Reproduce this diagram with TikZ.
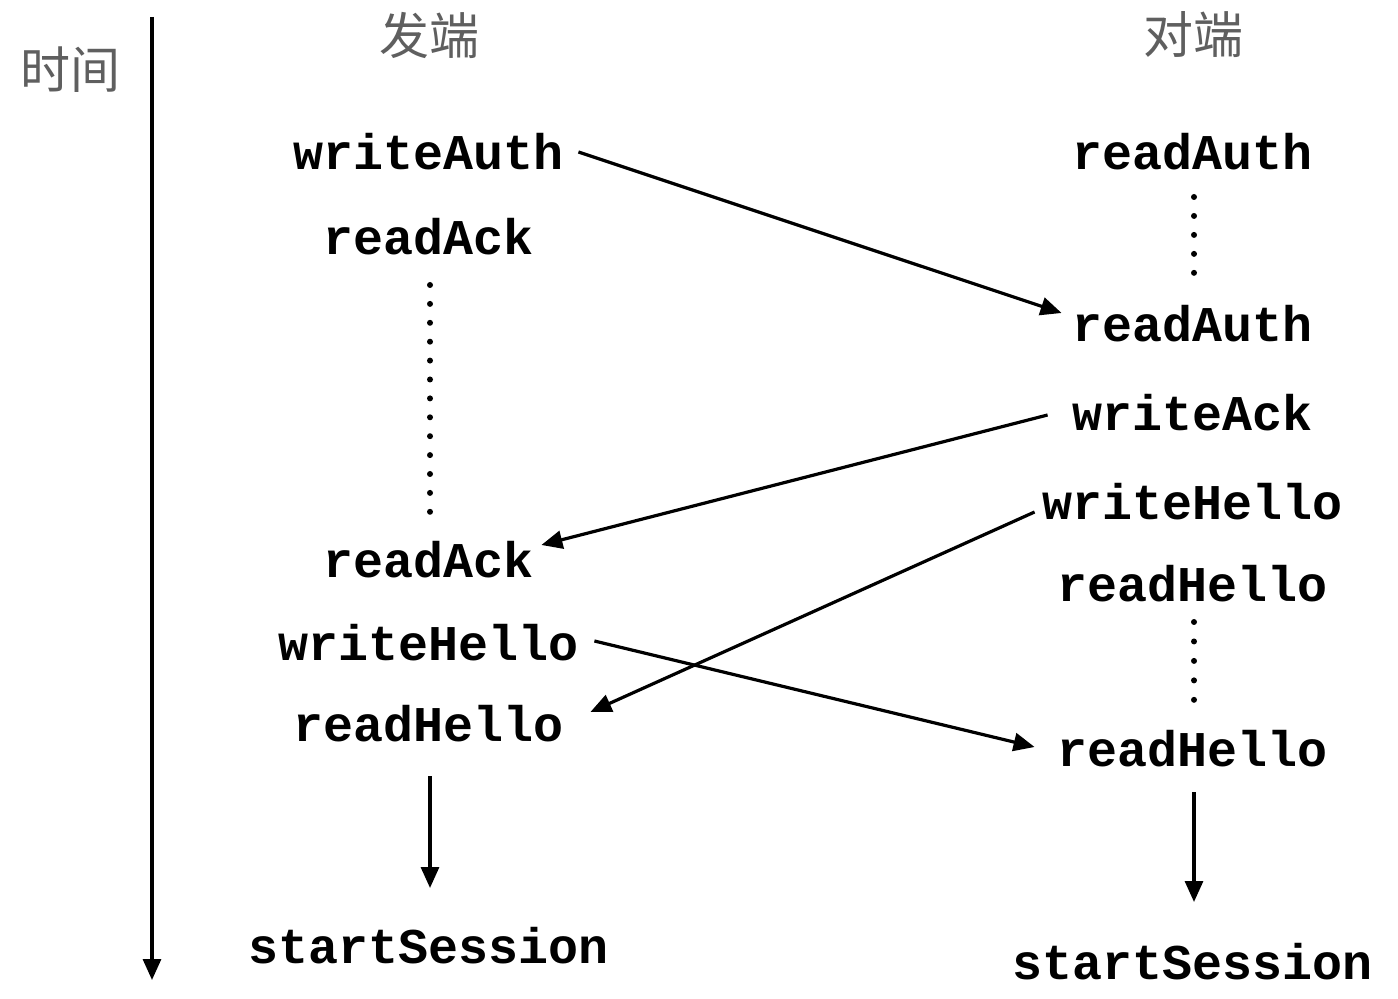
\documentclass[tikz,border=0pt]{standalone}
\usepackage{fontspec}
\setmonofont{Liberation Mono}
\newfontfamily\cjk{Noto Sans CJK SC}
\usetikzlibrary{arrows.meta,calc}
\definecolor{labelgray}{RGB}{95,95,95}
\tikzset{
  fn/.style={inner sep=0pt, font=\fontsize{25pt}{25pt}\selectfont\ttfamily\bfseries},
  hd/.style={inner sep=0pt, text=labelgray, font=\fontsize{25pt}{25pt}\selectfont\cjk},
  msg/.style={line width=1.6pt, -{Triangle[length=10.5pt,width=9pt]}},
  dotline/.style={line width=3pt, line cap=round, dash pattern=on 0pt off #1},
}
\begin{document}
\begin{tikzpicture}[x=0.5pt,y=-0.5pt]
\useasboundingbox (0,0) rectangle (1398,999);
% headers
\node[hd] (time) at (70,70) {时间};
\node[hd] (send) at (429,35) {发端};
\node[hd] (peer) at (1193,35) {对端};
% time axis
\coordinate (t0) at (152,17);
\coordinate (t1) at (152,980);
\draw[msg] (t0) -- (t1);
% left column
\node[fn] (wa)  at (429,152) {writeAuth};
\node[fn] (rk1) at (429,237) {readAck};
\node[fn] (rk2) at (429,560) {readAck};
\node[fn] (wh1) at (429,643) {writeHello};
\node[fn] (rh1) at (429,724) {readHello};
\node[fn] (ss1) at (429,946) {startSession};
% right column
\node[fn] (ra1) at (1193,152) {readAuth};
\node[fn] (ra2) at (1193,324) {readAuth};
\node[fn] (wk)  at (1193,413) {writeAck};
\node[fn] (wh2) at (1193,502) {writeHello};
\node[fn] (rh2) at (1193,584) {readHello};
\node[fn] (rh3) at (1193,749) {readHello};
\node[fn] (ss2) at (1193,962) {startSession};
% dotted waits
\draw[dotline=9.45pt] ($(rk1.center)+(1,48)$) -- ($(rk2.center)+(1,-48)$);
\draw[dotline=9.48pt] ($(ra1.center)+(1,45)$) -- ($(ra2.center)+(1,-51)$);
\draw[dotline=9.73pt] ($(rh2.center)+(1,38)$) -- ($(rh3.center)+(1,-49)$);
% messages
\draw[msg] ([shift={(14,0)}]wa.east) -- ([shift={(-11,-11)}]ra2.west);
\draw[msg] ([shift={(-25,2)}]wk.west) -- ([shift={(7,-15)}]rk2.east);
\draw[msg] ([shift={(-8,10)}]wh2.west) -- ([shift={(26,-12)}]rh1.east);
\draw[msg] ([shift={(15,-2)}]wh1.east) -- ([shift={(-23,-2)}]rh3.west);
% to session
\draw[msg] ($(rh1.center)+(1,52)$) -- ($(ss1.center)+(1,-58)$);
\draw[msg] ($(rh3.center)+(1,43)$) -- ($(ss2.center)+(1,-60)$);
\end{tikzpicture}
\end{document}
